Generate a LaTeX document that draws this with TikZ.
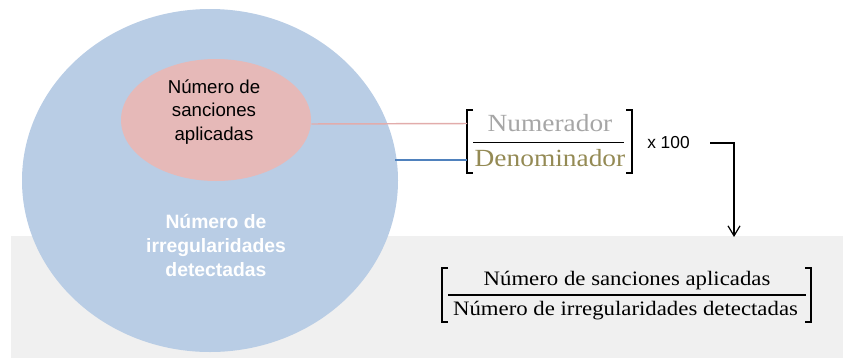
\documentclass[tikz,border=0pt]{standalone}
\usepackage{fontspec}
\setmainfont{Liberation Sans}
\setsansfont{Liberation Sans}
\newfontfamily\cambfont[FakeStretch=1.11]{Liberation Serif}
\usepackage{xcolor}
\usetikzlibrary{shapes.geometric, arrows.meta}
\definecolor{ovalblue}{HTML}{B9CDE5}
\definecolor{ovalpink}{HTML}{E6B9B8}
\definecolor{linkpink}{HTML}{E2ACAB}
\definecolor{linkblue}{HTML}{4F81BD}
\definecolor{panelgray}{HTML}{F0F0F0}
\definecolor{numgray}{HTML}{A6A6A6}
\definecolor{denolive}{HTML}{948A54}

\begin{document}
\begin{tikzpicture}[
    x=0.75pt, y=-0.75pt,
    oval/.style    = {ellipse, draw=none, inner sep=0pt},
    sanstxt/.style = {align=center, font=\fontsize{14pt}{17.5pt}\selectfont},
    bigfrac/.style = {anchor=base, inner sep=0pt, font=\cambfont\fontsize{18.5pt}{21pt}\selectfont},
    smallfrac/.style = {anchor=base, inner sep=0pt, font=\cambfont\fontsize{15.4pt}{18pt}\selectfont},
    brk/.style     = {line width=1.5pt},
    bar/.style     = {line width=1.1pt},
    link/.style    = {line width=1.1pt},
    arrow/.style   = {-{Straight Barb[length=7.5pt, width=9pt]}, line width=0.9pt}
]
\useasboundingbox (0,0) rectangle (843,358);
% bottom panel
\fill[panelgray] (11,236) rectangle (843,358);

% the two ovals
\node[oval, fill=ovalblue, minimum width=376pt*0.75, minimum height=343pt*0.75] (irreg) at (210,180.5) {};
\node[oval, fill=ovalpink, minimum width=190pt*0.75, minimum height=122pt*0.75] (sanc) at (216,120) {};
\node[sanstxt] (sanctxt) at (214,112) {Número de\\sanciones\\aplicadas};
\node[sanstxt, text=white, font=\bfseries\fontsize{14.5pt}{18pt}\selectfont] (irregtxt) at (216,245) {Número de\\irregularidades\\detectadas};

% generic fraction
\node[bigfrac, text=numgray]  (num) at (550,131) {Numerador};
\node[bigfrac, text=denolive] (den) at (550,166)   {Denominador};
\draw[bar] (473,142.5) -- (624,142.5);
\draw[brk] (473,110) -- (467,110) -- (467,173) -- (473,173);
\draw[brk] (626,110) -- (632,110) -- (632,173) -- (626,173);
\coordinate (lbrk1) at (467,123.5);
\coordinate (lbrk2) at (467,160);
\node[sanstxt, font=\fontsize{13pt}{15pt}\selectfont, anchor=west, inner sep=0pt] (times) at (647,142.5) {x 100};

% links from the ovals
\draw[link, linkpink] ([yshift=-3pt]sanc.east) -- (lbrk1);
\coordinate (irregedge) at (395,160);
\draw[link, linkblue] (irregedge) -- (lbrk2);

% arrow down to the result
\coordinate (turn) at (734,143);
\coordinate (drop) at (734,237);
\draw[arrow] (710,143) -- (turn) -- (drop);

% resulting fraction
\node[smallfrac] (numres) at (627,285.5) {Número de sanciones aplicadas};
\node[smallfrac] (denres) at (625.5,315.5) {Número de irregularidades detectadas};
\draw[bar, line width=0.9pt] (448,295) -- (806,295);
\draw[brk, line width=1.2pt] (448,268) -- (442,268) -- (442,322) -- (448,322);
\draw[brk, line width=1.2pt] (805,268) -- (811,268) -- (811,322) -- (805,322);
\end{tikzpicture}
\end{document}
